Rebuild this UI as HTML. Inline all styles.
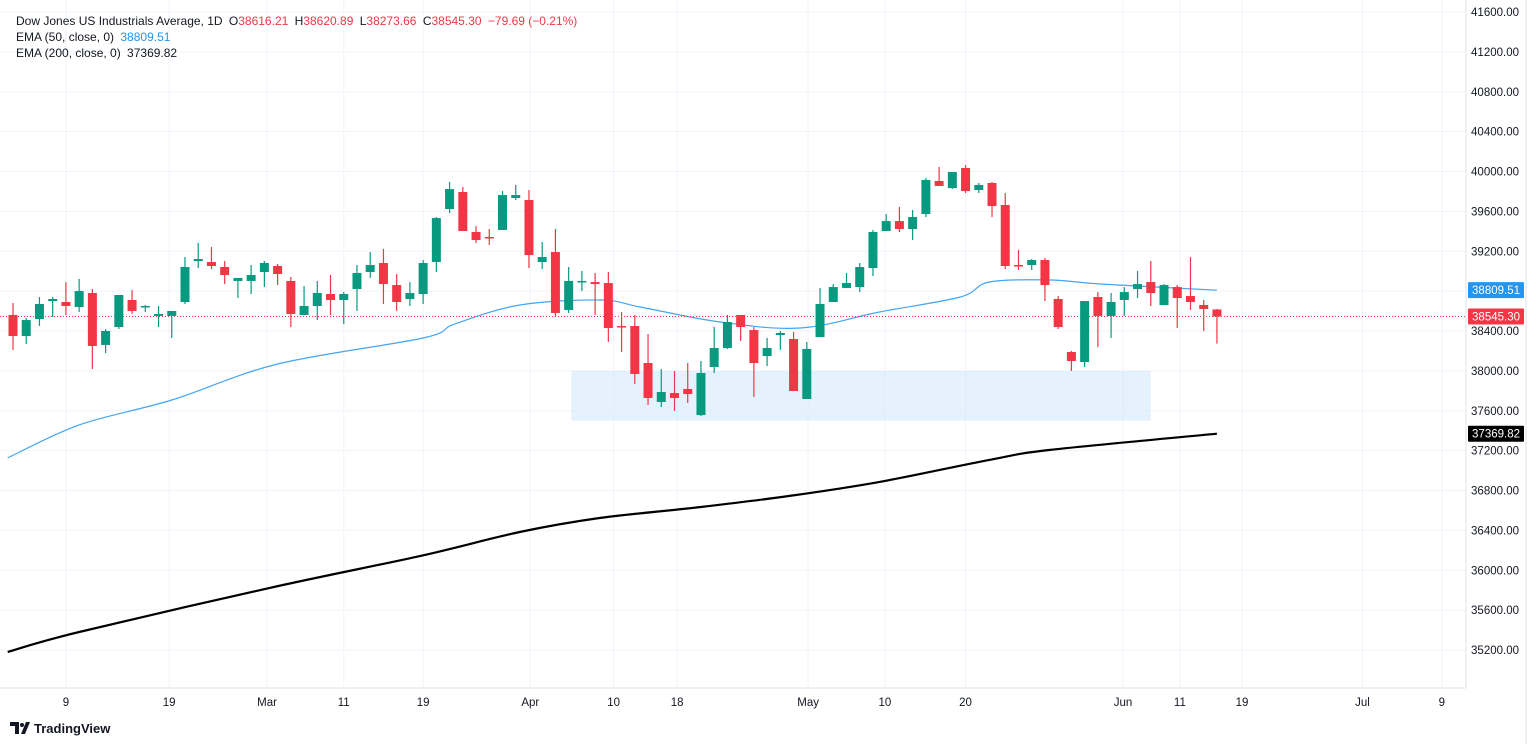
<!DOCTYPE html>
<html><head><meta charset="utf-8">
<style>
html,body{margin:0;padding:0;background:#fff;width:1536px;height:744px;overflow:hidden;font-family:"Liberation Sans",sans-serif;}
svg text{font-family:"Liberation Sans",sans-serif;}
</style></head>
<body>
<svg id="chart" width="1536" height="744" xmlns="http://www.w3.org/2000/svg">
<g id="grid"></g>
<rect id="zone" fill="#d6e7fd" fill-opacity="0.6"></rect>
<g id="emas"></g>
<g id="candles"></g>
<g id="axes"></g>
<g font-size="12" fill="#131722">
<text x="16" y="25">Dow Jones US Industrials Average, 1D <tspan dx="3">O</tspan><tspan fill="#f23645">38616.21</tspan> <tspan dx="3">H</tspan><tspan fill="#f23645">38620.89</tspan> <tspan dx="3">L</tspan><tspan fill="#f23645">38273.66</tspan> <tspan dx="3">C</tspan><tspan fill="#f23645">38545.30</tspan> <tspan dx="3" fill="#f23645">−79.69 (−0.21%)</tspan></text>
<text x="16" y="41">EMA (50, close, 0) <tspan dx="3" fill="#2196f3">38809.51</tspan></text>
<text x="16" y="57">EMA (200, close, 0) <tspan dx="3">37369.82</tspan></text>
</g>
<g>
<path d="M10 722h9v12h-4v-8h-5z M21 734l5-12h4l-5 12z" fill="#131722"/>
<circle cx="22" cy="725" r="2" fill="#131722"/>
<text x="34" y="733" font-size="13" font-weight="bold" fill="#131722">TradingView</text>
</g>
</svg>
<script>
const opens=[38561,38350,38520,38701,38691,38641,38781,38260,38440,38711,38641,38551,38551,38691,39102,39092,39042,38902,38902,38992,39052,38902,38561,38651,38771,38711,38821,38992,39082,38861,38721,38771,39092,39624,39794,39393,39343,39413,39734,39714,39092,39192,38611,38891,38891,38881,38450,38450,38079,37688,37778,37818,37557,38039,38230,38561,38410,38149,38360,38320,37718,38340,38691,38832,38841,39032,39403,39503,39423,39574,39905,39834,40035,39814,39885,39664,39062,39062,39112,38721,38189,38089,38741,38551,38711,38821,38891,38661,38841,38751,38661,38616.21];
const highs=[38681,38530,38741,38741,38891,38922,38821,38420,38761,38811,38661,38651,38601,39142,39283,39243,39102,38932,39062,39102,39072,38942,38851,38902,38962,38791,39062,39192,39223,38972,38891,39112,39543,39895,39845,39453,39423,39804,39865,39814,39293,39423,39042,39002,38982,38992,38591,38561,38370,38019,37999,38079,38099,38440,38561,38561,38440,38330,38400,38390,38290,38832,38871,38982,39082,39413,39574,39644,39614,39935,40045,39995,40065,39885,39895,39784,39213,39122,39132,38751,38200,38701,38791,38781,38841,39002,39102,38871,38861,39142,38711,38620.89];
const lows=[38210,38270,38450,38540,38561,38591,38019,38179,38420,38571,38591,38440,38330,38671,39032,39022,38871,38731,38771,38841,38861,38440,38561,38510,38561,38470,38601,38932,38671,38601,38651,38671,38992,39584,39403,39283,39263,39413,39714,39032,39022,38540,38581,38801,38561,38290,38189,37868,37658,37638,37598,37678,37547,37979,38220,38300,37738,38049,38210,37798,37718,38340,38691,38832,38791,38952,39403,39393,39313,39543,39855,39824,39784,39784,39543,39022,39012,39012,38701,38420,37999,38039,38240,38330,38551,38731,38651,38661,38430,38611,38400,38273.66];
const closes=[38350,38510,38671,38721,38651,38801,38250,38400,38761,38601,38651,38571,38601,39042,39122,39052,38962,38932,38962,39082,38972,38571,38651,38781,38711,38771,38982,39062,38871,38691,38781,39082,39533,39824,39403,39313,39333,39764,39764,39162,39142,38581,38902,38902,38871,38430,38440,37969,37728,37788,37728,37768,37979,38230,38490,38440,38079,38230,38380,37798,38220,38671,38841,38881,39042,39393,39503,39423,39543,39915,39855,39995,39804,39865,39654,39052,39052,39112,38861,38440,38099,38701,38551,38691,38791,38871,38781,38861,38731,38691,38621,38545.30];
const ema50Idx=[-0.4,5,12,20,31,33.4,38.3,44.4,47.4,53.4,59.5,65.5,71.6,73.8,78.4,82.2,91];
const ema50Val=[37127,37458,37708,38069,38330,38471,38661,38711,38641,38491,38430,38591,38741,38892,38912,38872,38809.51];
const ema200Idx=[-0.4,5,19.4,30.8,38.3,44.4,52,58.7,65.5,73.8,78.4,91];
const ema200Val=[35181,35381,35823,36144,36384,36525,36635,36746,36886,37107,37207,37369.82];
const priceTicks=[35200,35600,36000,36400,36800,37200,37600,38000,38400,38800,39200,39600,40000,40400,40800,41200,41600];
const dateLabels=["9","19","Mar","11","19","Apr","10","18","May","10","20","Jun","11","19","Jul","9"];
const dateIdx=[4,11.8,19.2,25,31,39.1,45.4,50.2,60.1,65.9,72,83.9,88.2,92.9,102,108];
const zonePrices=[38000,37500];
const zoneIdx=[42.2,86];

const NS="http://www.w3.org/2000/svg";
const PR=1466;
function y(p){return 12+(41600-p)*0.09969;}
function x(i){return 13+i*13.23;}
function mk(tag,attrs,parent){const e=document.createElementNS(NS,tag);for(const k in attrs)e.setAttribute(k,attrs[k]);parent.appendChild(e);return e;}
const grid=document.getElementById('grid'),axes=document.getElementById('axes');
priceTicks.forEach(p=>{
 const l=mk('line',{x1:0,x2:PR,y1:y(p),y2:y(p),stroke:'#f0f3fa','stroke-width':1},grid);
 
 
 const t=mk('text',{x:1519,y:y(p)+4,'text-anchor':'end','font-size':11.5,fill:'#131722'},axes);
 t.textContent=p.toFixed(2);
 
 
});
dateLabels.forEach((d,k)=>{
 const l=mk('line',{x1:x(dateIdx[k]),x2:x(dateIdx[k]),y1:0,y2:688,stroke:'#f0f3fa','stroke-width':1},grid);
 
 
 const t=mk('text',{x:x(dateIdx[k]),y:706,'text-anchor':'middle','font-size':11.5,fill:'#131722'},axes);
 t.textContent=d;
 
 
});
mk('line',{x1:PR,x2:PR,y1:0,y2:688,stroke:'#e0e3eb'},axes);
mk('line',{x1:0,x2:PR,y1:688,y2:688,stroke:'#e0e3eb'},axes);
mk('line',{x1:1526,x2:1526,y1:0,y2:744,stroke:'#e0e3eb'},axes);
const z=document.getElementById('zone');
z.setAttribute('x',x(zoneIdx[0]));z.setAttribute('width',x(zoneIdx[1])-x(zoneIdx[0]));
z.setAttribute('y',y(zonePrices[0]));z.setAttribute('height',y(zonePrices[1])-y(zonePrices[0]));
const em=document.getElementById('emas');
function line(idx,vals,col,w,name){
 const P=idx.map((i,k)=>[x(i),y(vals[k])]);
 let d='M'+P[0][0].toFixed(1)+','+P[0][1].toFixed(1);
 for(let k=0;k<P.length-1;k++){
  const p0=P[Math.max(0,k-1)],p1=P[k],p2=P[k+1],p3=P[Math.min(P.length-1,k+2)];
  const c1=[p1[0]+(p2[0]-p0[0])/6,p1[1]+(p2[1]-p0[1])/6];
  const c2=[p2[0]-(p3[0]-p1[0])/6,p2[1]-(p3[1]-p1[1])/6];
  d+=' C'+c1.map(v=>v.toFixed(1)).join(',')+' '+c2.map(v=>v.toFixed(1)).join(',')+' '+p2.map(v=>v.toFixed(1)).join(',');
 }
 const pl=mk('path',{d:d,fill:'none',stroke:col,'stroke-width':w,'stroke-linejoin':'round'},em);
 
 
}
line(ema50Idx,ema50Val,'#42a5f5',1.2,'ema50-line');
line(ema200Idx,ema200Val,'#000',2.2,'ema200-line');
const cg=document.getElementById('candles');
const last=closes[closes.length-1];
const dl=mk('line',{x1:0,x2:PR,y1:y(last),y2:y(last),stroke:'#f23645','stroke-width':1,'stroke-dasharray':'1 2'},cg);


opens.forEach((o,i)=>{
 const c=closes[i],up=c>=o,col=up?'#089981':'#f23645';
 const g=mk('g',{},cg);
 
 
 mk('line',{x1:x(i),x2:x(i),y1:y(highs[i]),y2:y(lows[i]),stroke:col,'stroke-width':1.2},g);
 const t=y(Math.max(o,c)),b=y(Math.min(o,c));
 mk('rect',{x:x(i)-4.5,y:t,width:9,height:Math.max(1.5,b-t),fill:col},g);
});
function tag(v,bg,name){
 const g=mk('g',{},axes);
 
 
 mk('rect',{x:1468,y:y(v)-8,width:56,height:16,fill:bg,rx:1},g);
 const t=mk('text',{x:1520,y:y(v)+4,'text-anchor':'end','font-size':11.5,fill:'#fff'},g);
 t.textContent=v.toFixed(2);
}
tag(ema50Val[ema50Val.length-1],'#2196f3','ema50-price-tag');
tag(last,'#f23645','last-price-tag');
tag(ema200Val[ema200Val.length-1],'#000','ema200-price-tag');
</script>
</body></html>
